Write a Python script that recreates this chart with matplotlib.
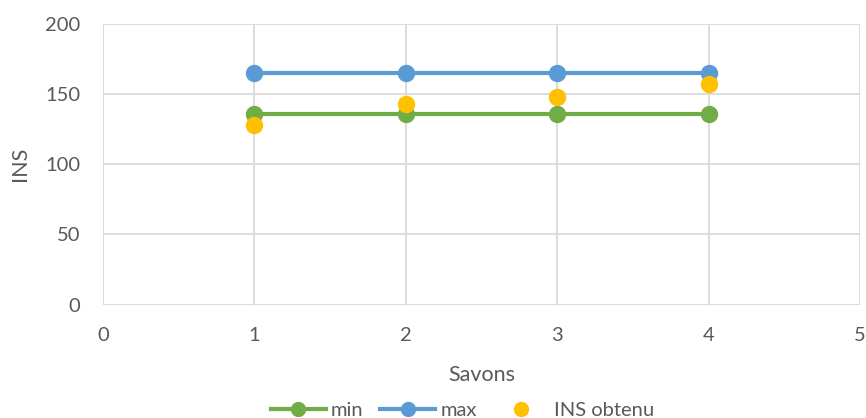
import matplotlib
matplotlib.use("Agg")
import matplotlib.pyplot as plt

plt.rcParams['font.family'] = ['Lato', 'DejaVu Sans']

savons = [1, 2, 3, 4]
ins_min = [136, 136, 136, 136]
ins_max = [165, 165, 165, 165]
ins_obtenu = [128, 143, 148, 157]

text_color = "#595959"
grid_color = "#d9d9d9"
tick_size = 14.5
title_size = 15.5

fig = plt.figure(figsize=(8.66, 4.18), dpi=100)
ax = fig.add_axes([0.1189, 0.2715, 0.8741, 0.671])

ax.plot(savons, ins_min, color="#70ad47", lw=3, marker="o", ms=11.5, label="min", zorder=3)
ax.plot(savons, ins_max, color="#5b9bd5", lw=3, marker="o", ms=11.5, label="max", zorder=3)
ax.plot(savons, ins_obtenu, ls="none", color="#ffc000", marker="o", ms=11.5,
        label="INS obtenu", zorder=4)

ax.set_xlim(0, 5)
ax.set_ylim(0, 200)
ax.set_xticks(range(0, 6))
ax.set_yticks(range(0, 201, 50))
ax.grid(True, color=grid_color, lw=1.3)
ax.set_axisbelow(True)
for s in ax.spines.values():
    s.set_visible(False)
ax.tick_params(length=0, labelsize=tick_size, colors=text_color)
ax.tick_params(axis="y", pad=16.5)
ax.tick_params(axis="x", pad=16)

ax.set_xlabel("Savons", fontsize=title_size, color=text_color)
ax.set_ylabel("INS", fontsize=title_size, color=text_color)
ax.xaxis.set_label_coords(0.5, -0.251)
ax.xaxis.label.set_va("center")
ax.yaxis.set_label_coords(-0.1096, 0.5)
ax.yaxis.label.set_va("center")

leg = fig.legend(loc="center", bbox_to_anchor=(0.534, 0.019), ncol=3, frameon=False,
                 fontsize=tick_size, labelcolor=text_color, handlelength=2.73,
                 columnspacing=0.85, handletextpad=0.25, markerscale=0.87,
                 borderaxespad=0, borderpad=0)

fig.savefig("out.png", dpi=100)
